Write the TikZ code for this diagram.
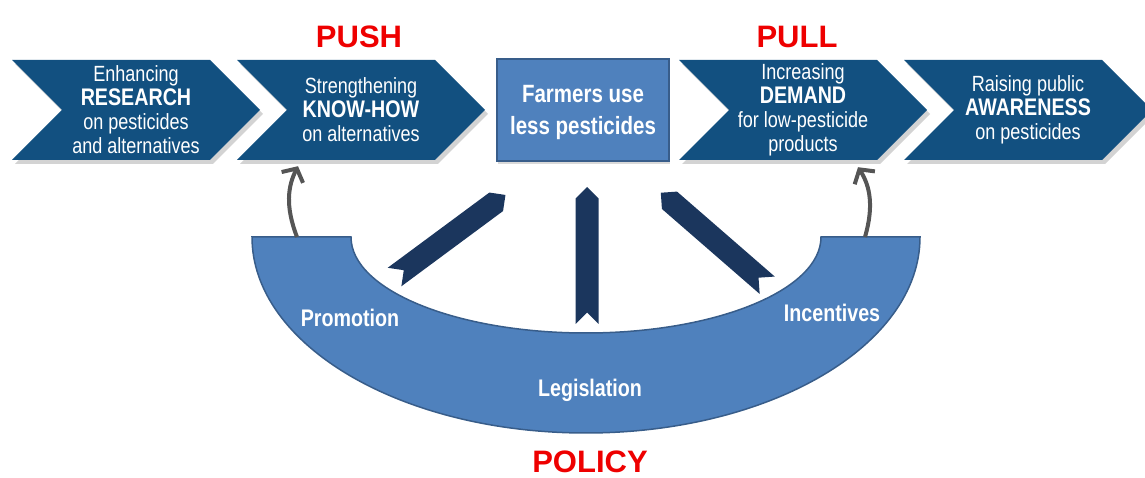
\documentclass[tikz,border=0pt]{standalone}
\usepackage{fontspec}
\setmainfont{Liberation Sans}
\newfontfamily\narrowsf[FakeStretch=0.82]{Liberation Sans}
\usepackage{tikz}
\usetikzlibrary{shapes.symbols, arrows.meta, positioning, shadows}

\definecolor{chevblue}{RGB}{18,80,128}
\definecolor{boxblue}{RGB}{79,129,189}
\definecolor{boxedge}{RGB}{56,93,138}
\definecolor{leverblue}{RGB}{27,54,93}
\definecolor{arrowgray}{RGB}{85,85,85}
\definecolor{pushred}{RGB}{238,0,0}

\newcommand{\chevkey}[1]{{\bfseries\fontsize{24}{24}\selectfont #1}}

\tikzstyle{chevron}  = [signal, signal from=west, signal to=east, signal pointer angle=90, fill=chevblue, minimum width=248pt, minimum height=100pt, inner sep=0pt, text=white, align=center, font=\narrowsf\fontsize{22}{24}\selectfont, drop shadow={shadow xshift=3pt, shadow yshift=-4pt, opacity=0.35}]
\tikzstyle{target}   = [rectangle, draw=boxedge, line width=2pt, fill=boxblue, minimum width=172pt, minimum height=102pt, text depth=0pt, text=white, align=center, font=\narrowsf\bfseries\fontsize{25}{32}\selectfont, drop shadow={shadow xshift=1pt, shadow yshift=-3pt, opacity=0.3}]
\tikzstyle{lever}    = [signal, signal from=west, signal to=east, signal pointer angle=90, fill=leverblue, minimum height=23pt, inner sep=0pt]
\tikzstyle{policyarc} = [fill=boxblue, draw=boxedge, line width=1.5pt]
\tikzstyle{leverlabel} = [text=white, font=\narrowsf\bfseries\fontsize{24}{26}\selectfont]
\tikzstyle{headline} = [text=pushred, font=\bfseries\fontsize{31}{33}\selectfont, inner sep=0pt]
\tikzstyle{feedback} = [-{Straight Barb[length=10pt,width=24pt]}, line width=4pt, draw=arrowgray]

\begin{document}
\begin{tikzpicture}[x=1pt, y=1pt]
    \useasboundingbox (0,0) rectangle (1145,478);

    % chain of chevrons along the top
    \node (research)  [chevron] at (136,368) {Enhancing\\\chevkey{RESEARCH}\\on  pesticides\\and alternatives};
    \node (knowhow)   [chevron] at (361,368) {Strengthening\\\chevkey{KNOW-HOW}\\on alternatives};
    \node (farmers)   [target]  at (583,368) {Farmers use\\less pesticides};
    \node (demand)    [chevron] at (803,368) {Increasing\\\chevkey{DEMAND}\\for low-pesticide\\products};
    \node (awareness) [chevron] at (1028,368) {Raising public\\\chevkey{AWARENESS}\\on pesticides};

    \node (push) [headline, above=12pt of knowhow, xshift=-2pt] {PUSH};
    \node (pull) [headline, above=12pt of demand, xshift=-6pt] {PULL};

    % policy bowl
    \filldraw [policyarc] (252,241) arc[start angle=180, end angle=360, x radius=334, y radius=196]
        -- (821,241) arc[start angle=360, end angle=180, x radius=235, y radius=96] -- cycle;

    \node (promotion)   [leverlabel] at (350,160) {Promotion};
    \node (legislation) [leverlabel] at (590,88)  {Legislation};
    \node (incentives)  [leverlabel] at (832,165) {Incentives};
    \node (policy) [headline] at (590,16) {POLICY};

    % levers pointing at the farmers
    \node (promote)   [lever, minimum width=138pt, rotate=36.5] at (450,242) {};
    \node (legislate) [lever, minimum width=137pt, rotate=90]   at (587,222.5) {};
    \node (reward)    [lever, minimum width=141pt, rotate=139]  at (714,239) {};

    % feedback from the bowl to push and pull
    \coordinate (pushfoot) at (297,241);
    \coordinate (pullfoot) at (865,241);
    \coordinate (pushend) at ([xshift=-63pt, yshift=-6pt]knowhow.south);
    \coordinate (pullend) at ([xshift=55pt, yshift=-7pt]demand.south);
    \draw [feedback] (pushfoot) .. controls (285,272) and (288,292) .. (pushend);
    \draw [feedback] (pullfoot) .. controls (874,272) and (870,292) .. (pullend);
\end{tikzpicture}
\end{document}
